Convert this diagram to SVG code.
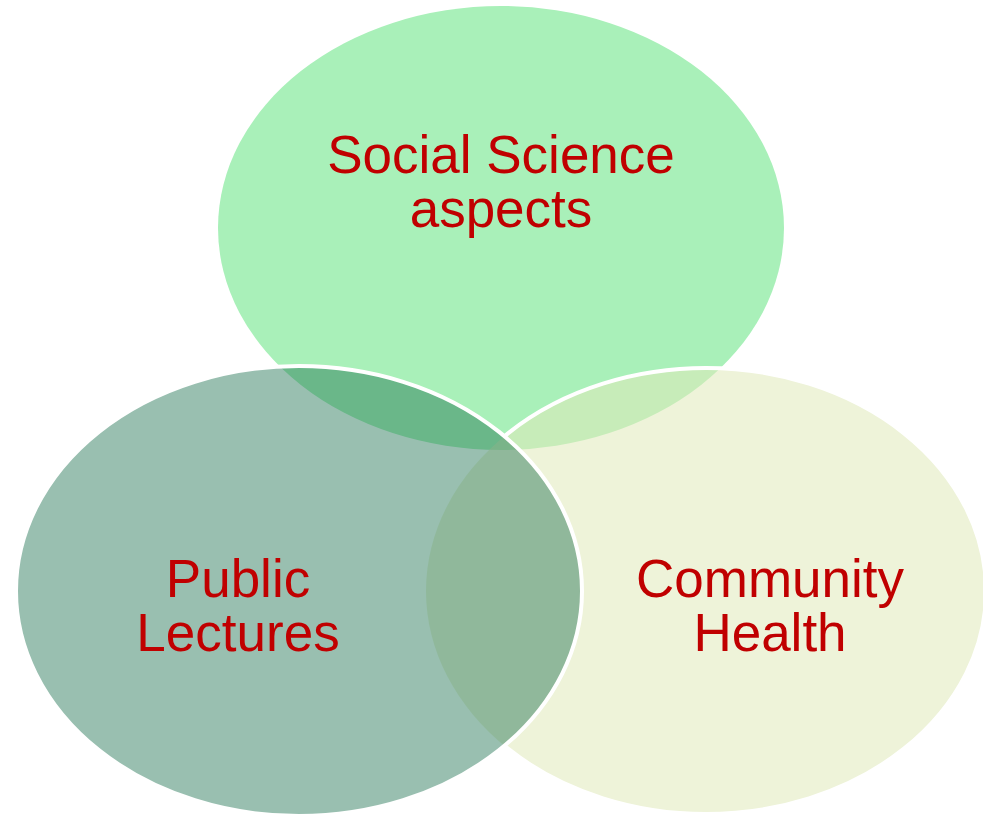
<svg xmlns="http://www.w3.org/2000/svg" width="983" height="818" viewBox="0 0 983 818">
<style>
.lbl{font-family:"Liberation Sans",Arial,sans-serif;font-size:53px;fill:#c00000;text-anchor:middle}
.edge{fill:none;stroke:#ffffff;stroke-width:4}
</style>
<defs>
<mask id="outLeft" maskUnits="userSpaceOnUse" x="0" y="0" width="983" height="818">
<rect x="0" y="0" width="983" height="818" fill="#fff"/>
<ellipse cx="299" cy="591" rx="283" ry="225" fill="#000"/>
</mask>
</defs>
<rect width="983" height="818" fill="#ffffff"/>
<g id="node-social-science">
<ellipse cx="501" cy="228" rx="283" ry="222" fill="#a9f0b9"/>
</g>
<g id="node-community-health">
<ellipse cx="706" cy="591" rx="280" ry="223" fill="#e0e9ba" fill-opacity="0.55"/>
<ellipse class="edge" cx="706" cy="591" rx="280" ry="223" mask="url(#outLeft)"/>
</g>
<g id="node-public-lectures">
<ellipse cx="299" cy="591" rx="283" ry="225" fill="#1c714f" fill-opacity="0.45"/>
<ellipse class="edge" cx="299" cy="591" rx="283" ry="225"/>
</g>
<g id="labels">
<text class="lbl" x="501" y="173">Social Science<tspan x="501" dy="54">aspects</tspan></text>
<text class="lbl" x="238" y="596.5">Public<tspan x="238" dy="54">Lectures</tspan></text>
<text class="lbl" x="770" y="596.5">Community<tspan x="770" dy="54">Health</tspan></text>
</g>
</svg>
